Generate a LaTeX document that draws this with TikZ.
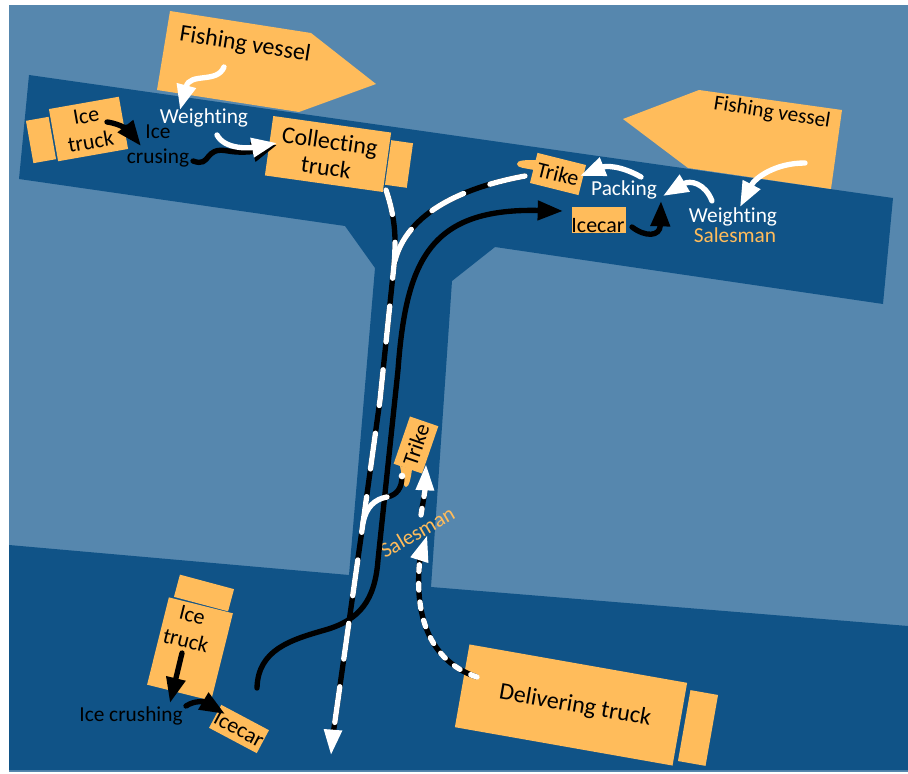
\documentclass[tikz,border=0pt]{standalone}
\usepackage{fontspec}
\setmainfont[Ligatures=NoCommon]{Carlito}
\usetikzlibrary{arrows.meta}
\definecolor{seablue}{HTML}{5687AE}
\definecolor{roadblue}{HTML}{105387}
\definecolor{cargo}{HTML}{FFBC5B}
\tikzset{
  cargobox/.style={fill=cargo, inner sep=0pt, align=center, font=\fontsize{16.5}{20}\selectfont},
  lab/.style={inner sep=0pt, align=center, font=\fontsize{16}{19}\selectfont},
  biglab/.style={lab, font=\fontsize{18}{20}\selectfont},
  blackroute/.style={black, line width=4pt, line cap=round},
  whiteroute/.style={white, line width=4pt, line cap=round},
  longdash/.style={whiteroute, dash pattern=on 27pt off 21pt},
  dotdash/.style={whiteroute, dash pattern=on 5pt off 9pt},
  headw/.style={-{Triangle[length=19pt,width=14pt]}},
}
\begin{document}
\begin{tikzpicture}[x=0.75pt, y=-0.75pt]
  \useasboundingbox (0,0) rectangle (908,774);

  % ---- water and roads ------------------------------------------------------
  \fill[seablue] (9,5) rectangle (908,772);
  \fill[roadblue] (29,75) -- (893,198) -- (883,304) -- (495,247) -- (452,281)
    -- (431,587) -- (908,626) -- (908,770) -- (9,770) -- (9,545) -- (349,575)
    -- (375,268) -- (345,226) -- (19,179) -- cycle;

  % ---- the two vessels --------------------------------------------------------
  \fill[cargo] (170,11) -- (311,33) -- (376,84) -- (299,112) -- (157,90) -- cycle;
  \fill[cargo] (623,119) -- (699,90) -- (842,110) -- (831,189) -- (688,168) -- cycle;
  \node[biglab, rotate=-9] (vesselleft) at (245,45) {Fishing vessel};
  \node[lab, rotate=-9] (vesselright) at (772,113) {Fishing vessel};

  % ---- trucks, cabs and cars: name / centre / angle / width / height / text ----
  \foreach \nm/\pos/\rr/\bw/\bh/\txt in {%
    icetruckA/{88.5,129}/10/71/53/{Ice\\truck},
    cabA/{41,140}/10/23/43/{},
    collect/{328,154}/-8/119/60/{},
    cabB/{399,164}/-8/22/45/{},
    icecarA/{599,220}/0/54/26/{},
    triketop/{558,174}/-14/50/31/{Trike},
    trikemid/{416,445}/71/50/30/{Trike},
    cabC/{204,593}/-15/56/23/{},
    icetruckB/{190,649}/-14/66/90/{},
    icecarB/{239,729}/-28/54/26/{Icecar},
    deliver/{571,705}/-10/221/84/{},
    cabD/{698,728}/-10/28/72/{}%
  }{
    \node[cargobox, rotate=\rr, minimum width=\bw*0.75pt, minimum height=\bh*0.75pt]
      (\nm) at (\pos) {\txt};
  }
  % trike noses
  \fill[cargo] (537,160) .. controls (525,160) and (517,160) .. (517,164)
    .. controls (517,168) and (525,168) .. (534,170) -- cycle;
  \fill[cargo] (400,466) -- (412,469) .. controls (411,478) and (409,487) .. (406,487)
    .. controls (403,487) and (402,476) .. (400,466) -- cycle;

  % ---- free labels --------------------------------------------------------------
  \node[biglab, rotate=-8] (collecttext) at (328,154) {Collecting\\truck};
  \node[cargobox, fill=none, rotate=-14] (truckB) at (189,628) {Ice\\truck};
  \node[cargobox, fill=none] (icecarAtext) at (598,226) {Icecar};
  \node[biglab, rotate=-10] (delivertext) at (575,706) {Delivering truck};
  \node[lab, white] (weighA) at (204,118) {Weighting};
  \node[lab] (crusing) at (158,146) {Ice\\crusing};
  \node[lab, white] (packing) at (624,190) {Packing};
  \node[lab, white] (weighB) at (733,217) {Weighting};
  \node[lab, cargo] (salesB) at (735,235) {Salesman};
  \node[lab, cargo, rotate=30] (salesmid) at (417,532) {Salesman};
  \node[lab] (crushing) at (131,716) {Ice crushing};

  % ---- short arrows ---------------------------------------------------------------
  \draw[whiteroute, headw] (224,67) .. controls (217,84) and (190,72) .. (180,110);
  \draw[blackroute, headw] (107,122) .. controls (122,124) and (130,132) .. (141,146);
  \draw[blackroute, headw] (193,161) .. controls (212,168) and (203,146) .. (228,151)
    .. controls (245,154) and (260,150) .. (277,145);
  \draw[whiteroute, headw] (217,135) .. controls (225,150) and (250,148) .. (277,143);
  \draw[whiteroute, headw] (805,163) .. controls (775,163) and (755,178) .. (740,207);
  \draw[whiteroute, headw] (712,201) .. controls (705,183) and (690,180) .. (663,196);
  \draw[whiteroute, headw] (641,177) .. controls (620,165) and (605,166) .. (580,176);
  \draw[blackroute, headw] (632,227) .. controls (645,237) and (660,237) .. (661,201);
  \draw[blackroute, headw] (186,706) .. controls (195,700) and (205,702) .. (225,714);
  \draw[blackroute, headw] (182,653) -- (170,703);

  % ---- black road route -------------------------------------------------------------
  \draw[blackroute, headw] (257,688) .. controls (258,650) and (290,640) .. (325,630)
    .. controls (360,620) and (375,600) .. (378,560) -- (398,370)
    .. controls (406,260) and (430,208) .. (563,211);

  % ---- black and white route, trunk and branches ---------------------------------
  \draw[blackroute] (525,176) .. controls (470,186) and (405,210) .. (394,265);
  \draw[blackroute] (386,190) .. controls (396,220) and (396,240) .. (394,265)
    -- (380,400) -- (363,523) -- (333,735);
  \draw[longdash] (525,176) .. controls (470,186) and (405,210) .. (394,265);
  \draw[longdash, dash phase=8pt] (386,190) .. controls (396,220) and (396,240) .. (394,265)
    -- (380,400) -- (363,523) -- (333,735);
  \draw[white, -{Triangle[length=19pt,width=13pt]}, line width=3.6pt] (333,730) -- (331,755);

  % ---- trike branch --------------------------------------------------------------------
  \draw[blackroute] (402,476) .. controls (402,488) and (397,495) .. (387,497);
  \draw[whiteroute] (387,497) .. controls (375,499) and (366,507) .. (363,523);
  \fill[white] (402,476) circle (2.5pt);

  % ---- dotted delivery route ---------------------------------------------------------
  \draw[blackroute, line cap=butt] (477,677) .. controls (440,665) and (412,630) .. (420,558);
  \draw[dotdash] (477,677) .. controls (440,665) and (412,630) .. (420,558);
  \draw[white, headw, line width=1pt] (420,558) -- (427,536);
  \draw[blackroute, line cap=butt] (421,515) -- (425,490);
  \draw[dotdash] (421,515) -- (425,490);
  \draw[white, headw, line width=1pt] (425,488) -- (426,465);
\end{tikzpicture}
\end{document}
